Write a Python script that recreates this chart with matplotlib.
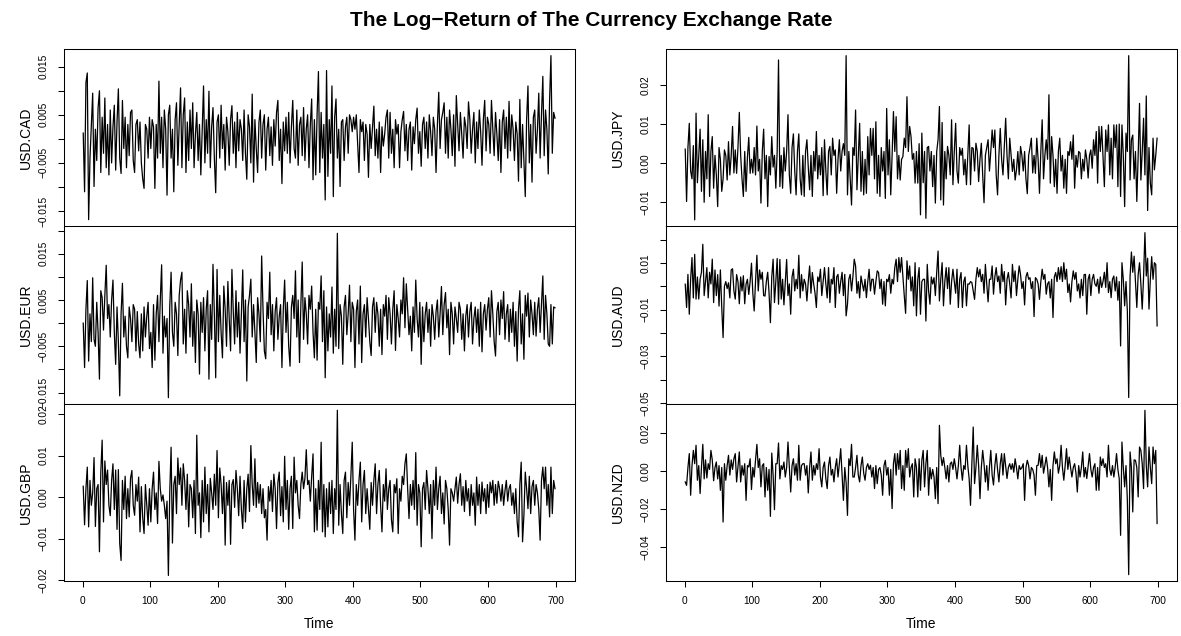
import numpy as np
import matplotlib
matplotlib.use("Agg")
import matplotlib.pyplot as plt

plt.rcParams["font.family"] = ["Liberation Sans", "DejaVu Sans"]

# log-returns, every second day, in units of 1e-4
time = np.arange(1, 700, 2)

usd_cad = [
    12, -110, 117, 137, -168, -40, 30, 95, -99, 20, -45, 65, 100, -70, 45, -30, 85, -60, 30, -75, 60, -50, 25, 70, -65, 35, 104, -40, -72, 80, -20, 45, -60, 30, -35, 55, 60, -45, -70, 30, 40, -25, 35, -50, -83, -103, 30, 20, -40, 45,
    -20, 40, 25, -103, 30, -40, 120, -30, 45, -60, 60, 20, -117, 50, 70, -40, 20, -110, 40, 75, -55, 30, 106, -60, 50, 85, -70, 35, -45, 60, -20, 75, -60, 10, 55, -45, 30, -75, 20, 110, -50, 40, -30, 99, -60, 25, 65, -40, -112, 35,
    50, -40, 70, -20, 30, -65, 45, 15, -55, 40, 69, -30, 35, -60, 55, -25, 40, 20, -45, 60, -30, -84, 50, 25, -50, 93, -90, 40, -20, -70, 35, 60, -40, 30, 50, -65, 20, 45, -35, 25, -55, 40, -15, 55, 80, -45, 20, -93, 35, -25,
    45, -30, 55, -50, 25, 80, -20, -40, 60, -55, 30, 45, -35, 65, -45, 20, 50, -60, 30, 83, -85, 40, -75, 50, 140, -70, 55, -40, 30, -127, 142, -78, 40, -30, 110, -120, 45, 83, -40, 20, -99, 35, 40, -45, 25, 45, -30, 50, 40, 15,
    45, 20, 50, -10, -70, 40, 15, 35, -45, 30, 10, -80, 30, -20, 25, 68, -35, 20, -40, 35, -70, 25, -15, 10, 45, 60, -40, 55, -30, 20, -60, 40, 10, 30, -60, 15, 40, 57, -25, 30, -45, 20, 35, -65, 25, -10, 40, 64, -30, 15,
    -57, 30, 45, -20, 35, -40, 50, 15, -35, 45, 20, -70, 30, 97, -20, 40, 55, 75, -30, 45, -40, 60, 20, -35, 50, -57, 90, 30, -25, 55, 10, -40, 45, 25, -20, 77, 40, -30, 20, 55, -50, 35, -20, 60, 15, -55, 40, 80, -25, 45,
    30, -30, 80, 20, -35, 55, 10, -45, 40, -70, 35, 60, -20, 45, -40, 78, -25, 50, 20, -45, 35, 10, -88, 82, -60, 30, -45, -120, 40, 110, -50, 30, -90, 45, 60, -30, 20, 95, -40, 50, 130, -35, 60, 20, -73, 80, 173, -30, 55, 43,
]
usd_eur = [
    0, -96, 30, 92, -82, 20, -40, 98, -35, -50, 45, -20, -121, 70, 55, -15, 60, 125, 10, 40, -30, 50, 93, -20, -89, 35, -40, -157, 20, 86, -30, 15, -50, -75, 35, 10, -40, 40, 30, -60, 25, -45, -75, 20, -60, 35, -30, 15, 45, -55,
    -20, -96, 40, -80, 20, 60, -40, 50, 126, -65, 15, -30, 10, -161, 35, 110, -20, -50, 45, 20, -70, 60, 93, 110, -45, 30, -65, 70, 40, -30, 85, -50, 25, -85, 50, 20, -110, 45, -20, 55, -60, 30, 70, -121, 40, -35, 127, 20, -118, 116,
    -40, 60, -20, -75, 80, 30, -50, 90, 10, -60, 116, 25, -45, 70, -30, 45, -65, 20, 115, -40, 50, -125, 35, 60, 95, -30, 40, -20, -85, 55, 20, -40, 145, 30, -60, -77, 45, 10, 110, -25, 40, -60, 25, 55, -35, 15, 40, -96, 30, 93,
    -20, 45, -50, -93, 35, 60, 10, 113, -30, 50, -85, 40, 132, -35, 55, 20, -45, 60, 30, 80, -20, -75, 30, -80, 45, 30, 102, -40, 70, -118, 35, -60, 20, -30, 78, -65, 30, -50, 194, -55, 40, 15, -89, 35, 60, -25, 20, 82, -40, 45,
    30, -96, 25, 50, -45, 80, -85, 20, 40, -30, 55, 10, -40, -70, 35, 55, -20, 45, 20, -50, 30, -68, 40, 15, 60, -35, 55, 20, -45, 30, 70, -59, 40, 10, -30, 50, 20, 98, -10, 85, 30, -25, 15, -60, 35, -20, 93, 10, -30, 45,
    -89, 35, -40, 20, 45, -20, 30, -50, 40, 15, -35, 25, 50, -30, 20, 79, -25, 40, 66, -10, 30, -68, 45, 20, -45, 35, 10, -20, 45, 30, -35, 20, -60, 15, 40, -30, 25, 45, -45, 10, 35, -20, 30, -50, 45, -62, 20, 40, -15, 30,
    55, -30, 70, 20, -40, -71, 25, 45, -25, 50, 10, 68, -35, 20, 40, -40, 30, -20, 45, -50, 25, -82, 30, 70, -45, 20, -78, 60, 15, 65, -30, 50, 20, -25, 45, -28, 30, 55, -20, 40, 102, -35, 60, 20, -45, -50, 40, -45, 35, 33,
]
usd_gbp = [
    26, -67, 20, 72, -72, 40, -20, 10, 95, -71, 20, 30, -132, 60, 137, -60, 87, 30, 65, -20, -45, 40, 80, -30, 65, -78, 66, -112, -153, 40, -30, 50, -52, 20, -48, 45, 64, -20, -44, 30, -10, 48, -84, 25, -50, -88, 30, -20, -68, 20,
    -60, 20, 60, -30, 10, -64, 86, 20, -10, 5, -20, -52, -10, -189, 10, 120, -111, 30, 50, -40, 94, 30, 70, -20, 80, 40, -30, 55, -72, 30, 20, -50, 40, -88, 149, -20, 10, -98, 40, -60, 72, -40, 30, -84, 45, 10, -30, 55, -20, 112,
    -50, 70, 30, -40, 50, -116, 35, -20, 40, -114, 30, 42, -25, 64, 20, -45, 50, -30, -76, 40, -60, 20, 55, -35, 124, 30, -20, 92, -25, 35, -15, 30, -40, 20, -50, -30, -104, 25, -10, 40, -35, 55, 20, -76, 35, 60, -45, 25, -60, 98,
    -30, 40, -78, 20, 50, -76, 96, 10, 40, -20, -52, 30, 60, 20, 45, 114, 30, 40, -10, 50, 104, -84, 20, -80, 40, -30, 132, -84, 30, -96, 20, -72, 35, -40, 40, -88, 20, -30, 209, -68, 30, -40, -88, 40, 60, -50, 35, -20, 50, 132,
    -30, -104, 30, -20, 40, 84, -60, 30, 64, -40, 20, -30, -78, 35, -20, 40, 80, -40, 30, 64, -20, -84, 30, -10, 68, -30, 20, 40, -55, -84, 30, 10, 44, -88, 20, -10, 50, 30, 80, 104, 20, -52, 30, -20, 40, -30, 107, -68, 30, 10,
    -120, 20, 35, -30, 64, 20, -40, 30, -100, 40, -20, 72, -30, 20, 50, -40, 10, -65, 40, 20, -30, -116, 20, 10, -10, 20, 48, -15, 30, 56, -20, 25, -35, 40, -10, 20, -45, 30, -20, 10, -68, 48, -20, 30, -40, 36, -10, 20, -40, 30,
    -25, 36, 10, 40, -20, 30, -15, 38, 20, -10, 30, -20, 15, 40, -10, 20, 30, -20, 10, -40, 20, -60, -96, 30, 84, -108, -44, 60, 20, -28, 50, -40, 25, 40, -20, 30, 10, -30, -104, 40, 72, 20, 72, -20, 30, -48, 72, -40, 40, 20,
]
usd_jpy = [
    36, -98, 40, 102, -20, -40, 45, -145, 128, -50, 20, 87, -72, 60, -100, 30, -40, 124, -85, 30, 68, -64, 20, -30, -111, 40, 10, -72, -40, 34, 20, -43, 55, -30, 20, 94, -25, 34, -26, 40, 130, 20, -40, -85, 30, -72, 15, 66, -26, 10,
    -25, 40, -30, 95, -20, 10, -102, 30, 87, -40, 20, -111, 17, -30, 68, -10, 20, -64, 30, 264, -60, 20, -64, 40, -20, 30, 124, -30, -77, 40, 75, -20, -81, 30, 75, -40, -81, 20, -85, 30, 60, -10, -68, 20, -85, 30, -20, 81, -40, 20,
    -30, 40, -83, 60, -20, -81, 30, 43, -30, 64, 20, 34, -77, 10, 60, -20, 30, 50, 20, 275, -81, 30, -40, -107, 40, 20, 136, -68, 20, 102, -72, 30, -81, 10, -77, 68, -30, 89, 20, 89, -40, 106, -77, 20, -85, 40, -20, 30, -90, 140,
    -30, 60, -81, 20, 132, 30, 119, -40, 20, -43, 10, 17, 64, 40, 170, 30, 94, 68, 10, 25, -51, 30, -51, 50, -132, 77, -50, 30, -141, 40, 43, -20, 30, -60, 20, -102, 30, 60, 145, -94, 104, -107, 30, -40, 43, 20, -30, 111, -55, 30,
    102, -20, -51, 40, 20, 38, -30, 10, -55, 20, 98, -55, 40, 38, -20, 51, 30, -47, 10, 51, -30, -101, 20, 40, 60, -20, 30, 85, 40, 85, -30, -81, 20, 89, 10, -30, 40, 115, 20, -40, 64, 20, -21, 10, -43, -17, 30, -30, 43, 20,
    -20, 30, -40, -78, 20, 40, 64, -25, 20, -26, 64, 10, -77, 30, 111, -40, 20, 60, 10, 175, -51, 68, 20, -60, 10, -77, 30, 64, -20, 20, -64, 10, -77, 30, 20, 55, 10, 72, -64, 20, -10, 30, 26, -40, 10, -20, 34, 10, -38, 20,
    34, -13, 60, 20, 81, -51, 94, 30, 94, 20, -60, 85, 30, 98, -30, 64, -40, 98, 40, 98, -60, 100, -85, 98, 20, -111, 77, 30, 275, -43, 60, 72, -40, 30, -98, 20, 153, -43, 30, 115, -30, 172, -121, 40, -51, -81, 64, -17, 20, 64,
]
usd_aud = [
    9, -91, 51, -120, 30, 123, -50, 137, -55, 40, -55, 30, 60, 180, -40, 20, 80, -50, 60, 10, 116, -70, 70, -40, 50, -85, 70, -90, -220, 0, 20, -10, 15, -50, 70, 75, -20, -55, 50, 20, -75, 40, -20, 45, -75, 10, 30, -35, 20, 99,
    -30, -106, 20, 133, -20, 70, 30, 60, -40, -42, 20, 60, -30, -156, 40, 116, -70, 20, 119, -77, 115, -55, 30, -80, 20, 115, -40, 10, -120, 40, 73, -20, 30, -10, 133, -50, 50, -20, 30, 10, -63, 20, 87, -30, 59, 10, -30, -91, 40, 20,
    73, -40, 20, 80, 10, -50, 80, -70, 30, 10, 80, -91, 40, 51, -30, 20, 60, -40, 51, -127, -77, 30, 51, -20, 40, 116, 87, -30, 20, -50, 44, 10, -20, 30, -49, 20, 73, -20, 30, 30, -34, 20, 66, 59, -10, 30, -77, 20, -84, 30,
    20, 50, -30, 30, 10, 80, 116, 20, 123, 60, 123, 40, -40, -116, 109, 30, 87, -20, 40, -84, 101, -127, 30, 80, -120, 20, 30, 30, -149, 94, -20, -77, 40, 10, 37, -40, 60, 151, -63, 30, 101, -84, 20, 80, -10, 80, -77, 20, 73, 20,
    -30, 73, -91, 30, 59, -91, 20, 40, -84, 10, 9, 20, 16, -20, -56, 30, 80, 40, 73, 20, 51, -30, 94, 10, -67, 30, 30, 87, -34, 40, 80, 20, 44, -30, 94, 20, 63, -80, 30, 59, 10, -50, 94, 20, 66, -40, 30, 87, 50, -10,
    20, -80, 40, 59, 30, 37, -10, 20, -130, 37, 30, 10, -56, 20, 73, 30, 51, -34, 10, 20, -50, 30, -134, 40, 59, 20, 80, 30, 84, 20, 101, 30, 73, -27, 10, -67, 20, 66, 30, 59, -20, 10, -50, 30, -40, 50, 51, -120, 30, 51,
    -40, 30, 51, 10, 0, 30, -30, 40, -5, 20, 60, -5, 101, -27, 20, -49, 30, 44, -20, 40, -60, 20, -256, 101, 30, -84, 20, -106, -477, 40, 147, 60, 129, 20, -91, 50, 101, 9, -98, 40, 230, 44, 120, -98, 30, 127, 30, 101, 94, -170,
]
usd_nzd = [
    -56, -74, 20, 93, -126, 30, 110, 40, 137, -47, 30, -117, 20, 142, -40, 60, -35, 40, 10, 110, 60, -50, 20, 49, -40, 30, -100, 20, -267, 40, -47, 30, 84, -20, 60, 10, 66, 93, -56, 20, 102, -56, 30, -20, 40, -153, 30, 23, 66, -96,
    20, -30, 60, 142, 20, 66, -82, 30, 40, -135, 20, -100, 10, -237, 96, -20, -202, 40, 40, 149, -40, 30, 10, 49, -30, 20, 154, 20, -109, 30, 66, -20, 40, -47, 137, -47, 30, 40, 40, -20, 30, -114, 20, 102, -47, 30, -20, 40, 10, 119,
    -30, -82, 20, 49, -40, -91, 30, 75, -20, 10, -56, 20, 66, -30, 40, 119, -20, -153, 20, -60, -232, 66, 30, 142, -30, -30, 20, 84, -20, -56, 30, 75, -10, -47, 20, 40, 10, 32, -30, 20, -91, 30, -65, 10, 20, -20, -126, 30, 58, -20,
    20, -126, 10, -196, 40, 93, -20, 93, 10, 110, -91, 30, -100, 110, 20, 119, -30, 20, 40, -135, 66, 20, -135, 66, -100, 58, 110, -82, 40, 110, -126, 20, -40, 10, -30, -144, 20, -170, 242, 84, 30, 72, 20, -40, 30, -56, 40, 49, 10, 66,
    20, -40, 30, 137, 20, -47, 30, 10, 137, 30, -40, -179, 40, 233, -65, 20, 137, 30, -144, 20, 110, 40, -56, 30, -100, 20, 110, -20, -72, 30, 93, 10, -56, 40, 93, -20, 93, 30, -38, 20, 40, 10, 40, -5, 66, 20, -40, 30, 10, 20,
    40, -153, 20, 58, 30, -40, 20, 10, -20, -126, 30, 32, 93, 20, 84, -10, 30, 75, 20, -82, 10, -153, 30, 102, 40, 66, -10, 30, 137, 20, -47, 30, 119, 10, 75, 20, -30, 20, 40, -10, -109, 30, -30, 20, 102, -30, 20, -38, 30, 93,
    10, -30, 20, 40, -100, 20, -100, 75, 30, 66, 20, 40, -30, 137, 10, -21, 30, -30, 20, 93, 10, -40, -337, 154, 20, -82, 30, -153, -544, 102, 20, -214, 60, 58, 20, -135, 128, 110, 40, -91, 321, 30, -82, 128, 20, -65, 128, 40, 110, -275,
]

M = "\u2212"

# name, values, column, row, y range, y ticks, y tick labels
panels = [
    ("USD.CAD", usd_cad, 0, 0, (-0.01822, 0.01862),
     [-0.015, -0.01, -0.005, 0, 0.005, 0.01, 0.015],
     [M + "0.015", "", M + "0.005", "", "0.005", "", "0.015"]),
    ("USD.EUR", usd_eur, 0, 1, (-0.0174, 0.02087),
     [-0.015, -0.01, -0.005, 0, 0.005, 0.01, 0.015, 0.02],
     [M + "0.015", "", M + "0.005", "", "0.005", "", "0.015", ""]),
    ("USD.GBP", usd_gbp, 0, 2, (-0.02024, 0.02246),
     [-0.02, -0.01, 0, 0.01, 0.02],
     [M + "0.02", M + "0.01", "0.00", "0.01", "0.02"]),
    ("USD.JPY", usd_jpy, 1, 0, (-0.01619, 0.02913),
     [-0.01, 0, 0.01, 0.02],
     [M + "0.01", "0.00", "0.01", "0.02"]),
    ("USD.AUD", usd_aud, 1, 1, (-0.05036, 0.02563),
     [-0.05, -0.04, -0.03, -0.02, -0.01, 0, 0.01, 0.02],
     [M + "0.05", "", M + "0.03", "", M + "0.01", "", "0.01", ""]),
    ("USD.NZD", usd_nzd, 1, 2, (-0.05774, 0.03553),
     [-0.04, -0.02, 0, 0.02],
     [M + "0.04", M + "0.02", "0.00", "0.02"]),
]

W, H = 1181, 636
fig = plt.figure(figsize=(W / 100, H / 100), dpi=100)

col_left = [64.3, 666.3]
col_width = [510.3, 510.4]
row_top = [49.3, 226.5, 403.8]
row_h = 177.2
ylab_x = [-0.061, -0.081]

for name, vals, c, r, ylim, ticks, labels in panels:
    ax = fig.add_axes([col_left[c] / W, 1 - (row_top[r] + row_h) / H,
                       col_width[c] / W, row_h / H])
    ax.plot(time, np.array(vals) / 1e4, color="black", lw=0.9)
    ax.set_xlim(-27, 728)
    ax.set_ylim(*ylim)
    ax.set_yticks(ticks)
    ax.set_yticklabels(labels, rotation=90, va="center")
    ax.tick_params(direction="out", length=4.3, width=0.75, labelsize=7.3,
                   pad=7, colors="black")
    for sp in ax.spines.values():
        sp.set_linewidth(0.75)
    ax.set_ylabel(name, fontsize=10)
    ax.yaxis.set_label_coords(ylab_x[c], 0.5)
    if r < 2:
        ax.tick_params(axis="x", bottom=False, labelbottom=False)
    else:
        ax.set_xticks(range(0, 701, 100))
        ax.tick_params(axis="x", pad=6.5)
        ax.set_xlabel("Time", fontsize=10)
        ax.xaxis.set_label_coords(0.5, -0.203)

fig.text(0.5009, 1 - 20 / H, "The Log" + M + "Return of The Currency Exchange Rate",
         ha="center", va="center", fontsize=15, fontweight="bold")

fig.savefig("out.png", dpi=100)
